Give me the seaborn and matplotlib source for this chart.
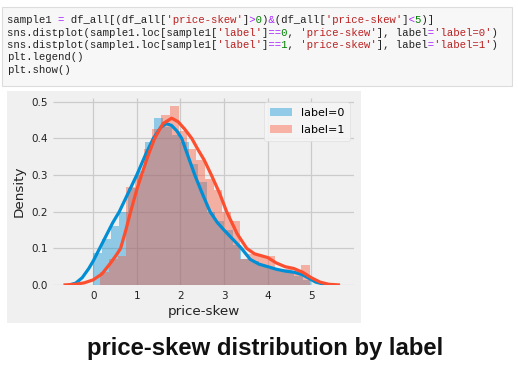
import matplotlib
matplotlib.use("Agg")
import matplotlib.pyplot as plt
import numpy as np
import seaborn as sns
from matplotlib.patches import Patch, Rectangle

# code cell shown above the plot
code_lines = [
    "sample1 = df_all[(df_all['price-skew']>0)&(df_all['price-skew']<5)]",
    "sns.distplot(sample1.loc[sample1['label']==0, 'price-skew'], label='label=0')",
    "sns.distplot(sample1.loc[sample1['label']==1, 'price-skew'], label='label=1')",
    "plt.legend()",
    "plt.show()",
]
caption = "price-skew distribution by label"

# histogram bins (density)
blue_edges = [0.0, 0.2, 0.4, 0.6, 0.8, 1.0, 1.2, 1.4, 1.6, 1.8, 2.0, 2.2, 2.4,
              2.6, 2.8, 3.0, 3.2, 3.4, 3.6, 3.8, 4.0, 4.2, 4.4, 4.6, 4.8, 5.0]
blue_heights = [0.086, 0.125, 0.16, 0.20, 0.265, 0.31, 0.39, 0.455, 0.43, 0.41,
                0.39, 0.33, 0.28, 0.20, 0.175, 0.15, 0.11, 0.07, 0.065, 0.055,
                0.045, 0.04, 0.035, 0.025, 0.015]
red_edges = [0.16, 0.36, 0.56, 0.76, 0.96, 1.16, 1.36, 1.56, 1.76, 1.96, 2.16,
             2.36, 2.56, 2.76, 2.96, 3.16, 3.36, 3.56, 3.76, 3.96, 4.16, 4.36,
             4.56, 4.76, 4.96]
red_heights = [0.036, 0.072, 0.08, 0.268, 0.30, 0.37, 0.425, 0.463, 0.488, 0.42,
               0.37, 0.34, 0.29, 0.26, 0.20, 0.175, 0.07, 0.085, 0.08, 0.08,
               0.045, 0.045, 0.038, 0.055]

# kde curves
blue_kde_x = [-0.55, -0.4, -0.25, -0.1, 0.0, 0.15, 0.3, 0.45, 0.6, 0.8, 1.0,
              1.2, 1.38, 1.55, 1.68, 1.8, 1.92, 2.03, 2.18, 2.33, 2.5, 2.68,
              2.85, 3.0, 3.2, 3.4, 3.6, 3.8, 4.0, 4.2, 4.4, 4.6, 4.8, 4.95,
              5.1, 5.3, 5.5]
blue_kde_y = [0.0, 0.005, 0.02, 0.045, 0.065, 0.10, 0.135, 0.17, 0.20, 0.25,
              0.30, 0.355, 0.40, 0.43, 0.44, 0.435, 0.42, 0.40, 0.35, 0.30,
              0.25, 0.20, 0.17, 0.15, 0.125, 0.10, 0.07, 0.057, 0.05, 0.043,
              0.038, 0.035, 0.028, 0.018, 0.008, 0.002, 0.0]
red_kde_x = [-0.68, -0.4, -0.2, 0.0, 0.2, 0.4, 0.55, 0.63, 0.75, 0.86, 1.0,
             1.11, 1.25, 1.41, 1.6, 1.8, 1.95, 2.1, 2.26, 2.4, 2.55, 2.71, 2.9,
             3.06, 3.3, 3.52, 3.7, 3.85, 4.0, 4.2, 4.4, 4.6, 4.8, 5.0, 5.2,
             5.4, 5.66]
red_kde_y = [0.0, 0.002, 0.006, 0.014, 0.03, 0.06, 0.085, 0.10, 0.15, 0.20,
             0.26, 0.30, 0.35, 0.40, 0.44, 0.455, 0.445, 0.425, 0.40, 0.37,
             0.34, 0.30, 0.25, 0.20, 0.14, 0.10, 0.085, 0.08, 0.075, 0.06,
             0.05, 0.045, 0.035, 0.02, 0.008, 0.002, 0.0]

x_ticks = [0, 1, 2, 3, 4, 5]
y_ticks = [0.0, 0.1, 0.2, 0.3, 0.4, 0.5]
legend_labels = ["label=0", "label=1"]

plt.style.use("fivethirtyeight")
plt.rcParams["font.family"] = ["DejaVu Sans"]

W, H = 518, 370
BLUE, RED = "#008fd5", "#fc4f30"


def fx(px):
    return px / W


def fy(py):
    return 1 - py / H


fig = plt.figure(figsize=(W / 100, H / 100), dpi=100, facecolor="white")

# notebook code cell
fig.add_artist(Rectangle((fx(2), fy(86)), 510 / W, 79 / H, transform=fig.transFigure,
                         facecolor="#f7f7f7", edgecolor="#dcdcdc", linewidth=0.8,
                         zorder=-5))
cw = 6.38
mono_size = cw / 0.6 * 72 / 100


def char_kind(line):
    kinds = []
    in_str = False
    for i, ch in enumerate(line):
        if ch == "'":
            kinds.append("s")
            in_str = not in_str
        elif in_str:
            kinds.append("s")
        elif ch in "=<>&":
            kinds.append("o")
        elif ch.isdigit() and not (line[i - 1].isalnum() or line[i - 1] == "_"):
            kinds.append("n")
        else:
            kinds.append("t")
    return kinds


colors = {"t": "#222222", "s": "#ba2121", "n": "#008000", "o": "#aa22ff"}
for li, line in enumerate(code_lines):
    kinds = char_kind(line)
    yy = 20 + li * 12.5
    for k, col in colors.items():
        masked = "".join(c if kk == k else " " for c, kk in zip(line, kinds))
        fig.text(fx(7), fy(yy), masked, family="Liberation Mono", fontsize=mono_size,
                 color=col, va="center", ha="left")

# gray output panel
fig.add_artist(Rectangle((fx(7), fy(323)), 354 / W, 232 / H, transform=fig.transFigure,
                         facecolor="#f0f0f0", edgecolor="none", zorder=-5))

ax = fig.add_axes([fx(53), fy(285), 301 / W, 187 / H])
ax.set_facecolor("#f0f0f0")

blue_mid = np.add(blue_edges[:-1], blue_edges[1:]) / 2
red_mid = np.add(red_edges[:-1], red_edges[1:]) / 2

sns.histplot(x=blue_mid, weights=blue_heights, bins=blue_edges, color=BLUE,
             alpha=0.4, linewidth=0, ax=ax)
sns.lineplot(x=blue_kde_x, y=blue_kde_y, color=BLUE, linewidth=2.3, ax=ax)
sns.histplot(x=red_mid, weights=red_heights, bins=red_edges, color=RED,
             alpha=0.4, linewidth=0, ax=ax)
sns.lineplot(x=red_kde_x, y=red_kde_y, color=RED, linewidth=2.3, ax=ax)

ax.set_xlim(-0.92, 5.98)
ax.set_ylim(0, 0.51)
ax.set_xticks(x_ticks)
ax.set_yticks(y_ticks)
ax.set_yticklabels([f"{v:.1f}" for v in y_ticks])
ax.tick_params(labelsize=7.5, pad=4, length=0, colors="#222222")
ax.grid(True, color="#cbcbcb", linewidth=0.9)
ax.set_axisbelow(True)
for s in ax.spines.values():
    s.set_visible(False)
ax.set_xlabel("price-skew", fontsize=9.7, labelpad=3, color="#222222")
ax.set_ylabel("Density", fontsize=9.7, labelpad=4, color="#222222")

handles = [Patch(facecolor=BLUE, alpha=0.4, edgecolor="none"),
           Patch(facecolor=RED, alpha=0.4, edgecolor="none")]
ax.legend(handles, legend_labels, loc="upper right", fontsize=8, frameon=True,
          facecolor="#f5f5f5", edgecolor="#dddddd", framealpha=0.9,
          handlelength=2.0, handleheight=0.7, borderaxespad=0.4,
          labelspacing=0.65, borderpad=0.5)

fig.text(fx(265), fy(348), caption, family="Liberation Sans", fontweight="bold",
         fontsize=17.2, ha="center", va="center", color="#111111")

fig.savefig("out.png", dpi=100, facecolor="white")
